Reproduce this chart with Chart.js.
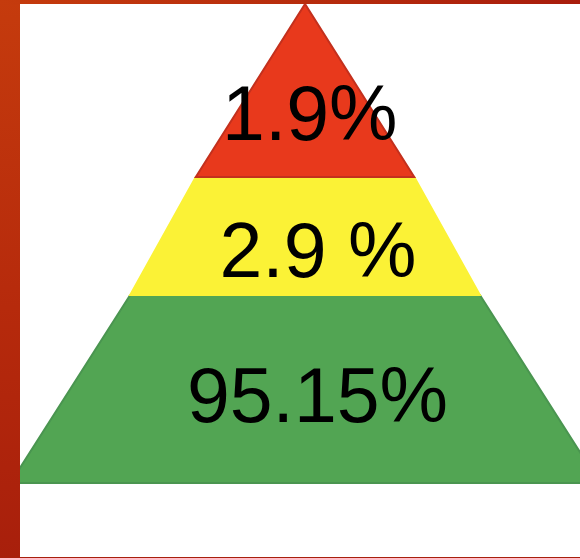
<!DOCTYPE html>
<html>
<head>
<meta charset="utf-8">
<script src="https://cdn.jsdelivr.net/npm/chart.js@4/dist/chart.umd.min.js"></script>
<style>
    html, body { margin: 0; padding: 0; }
    body {
        width: 580px;
        height: 558px;
        overflow: hidden;
        position: relative;
        background: linear-gradient(180deg, #c53b0d 0%, #b62a0c 55%, #a81f0c 100%);
    }
    .franjaSup {
        position: absolute; left: 0; top: 0; width: 580px; height: 4px;
        background: linear-gradient(90deg, #c53b0d 0%, #b52a0c 60%, #a81c0c 100%);
    }
    .contenido {
        position: absolute; left: 20px; top: 4px; width: 560px; height: 553px;
        background: #ffffff;
    }
</style>
</head>
<body>
<div class="franjaSup"></div>
<div class="contenido"><canvas id="piramide"></canvas></div>
<script>
// datos
const categorias = ["Nivel alto", "Nivel medio", "Nivel base"];
const valores = [1.9, 2.9, 95.15];
const etiquetas = ["1.9%", "2.9 %", "95.15%"];
const colores = ["#e8391c", "#fbf236", "#52a553"];
const bordes = ["#c3301d", "#fbf236", "#4a9550"];

// forma de la piramide (1 unidad = altura de la piramide)
const niveles = [0, 0.361, 0.6075, 1.0];
const anchos = [0, 0.228, 0.365, 0.615];
const posEtiquetas = [
    { x: 0.01, y: 0.284 },
    { x: 0.027, y: 0.57 },
    { x: 0.026, y: 0.873 },
];

function trapecio(i) {
    let arriba = niveles[i], abajo = niveles[i + 1];
    let a = anchos[i], b = anchos[i + 1];
    return [
        { x: -a, y: arriba },
        { x: a, y: arriba },
        { x: b, y: abajo },
        { x: -b, y: abajo },
        { x: -a, y: arriba },
    ];
}

const textoCapas = {
    id: "textoCapas",
    afterDatasetsDraw(chart) {
        let ctx = chart.ctx;
        let sx = chart.scales.x, sy = chart.scales.y;
        ctx.save();
        ctx.fillStyle = "#000000";
        ctx.font = "77px 'Liberation Sans', Arial, sans-serif";
        ctx.textAlign = "center";
        ctx.textBaseline = "alphabetic";
        etiquetas.forEach((txt, i) => {
            ctx.fillText(txt, sx.getPixelForValue(posEtiquetas[i].x), sy.getPixelForValue(posEtiquetas[i].y));
        });
        ctx.restore();
    },
};

new Chart(document.getElementById("piramide"), {
    type: "scatter",
    data: {
        datasets: categorias.map((cat, i) => ({
            label: cat + " (" + valores[i] + "%)",
            data: trapecio(i),
            showLine: true,
            fill: "shape",
            backgroundColor: colores[i],
            borderColor: bordes[i],
            borderWidth: 2,
            pointRadius: 0,
            tension: 0,
        })),
    },
    options: {
        responsive: true,
        maintainAspectRatio: false,
        animation: false,
        layout: { padding: 0 },
        plugins: {
            legend: { display: false },
            tooltip: { enabled: false },
        },
        scales: {
            x: { type: "linear", display: false, min: -0.595, max: 0.574 },
            y: { type: "linear", display: false, reverse: true, min: 0, max: 1.1545 },
        },
    },
    plugins: [textoCapas],
});
</script>
</body>
</html>
